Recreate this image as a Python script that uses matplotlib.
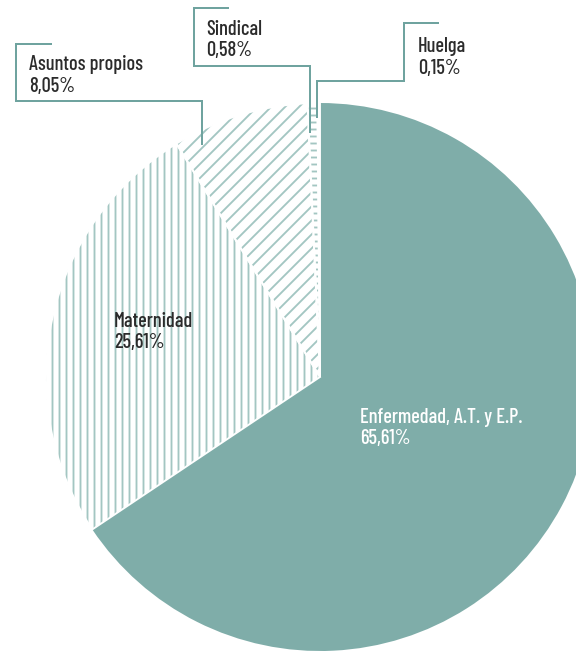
import matplotlib
matplotlib.use('Agg')
import matplotlib.pyplot as plt

# Data (percent of absences by cause)
labels = ['Enfermedad, A.T. y E.P.', 'Maternidad', 'Asuntos propios', 'Sindical', 'Huelga']
values = [65.61, 25.61, 8.05, 0.58, 0.15]
pct_text = ['65,61%', '25,61%', '8,05%', '0,58%', '0,15%']

teal = '#7FADA9'
hatch_teal = '#A3C6C2'
line_teal = '#6FA39F'
text_dark = '#2B2B2B'

# narrow DIN-like face, DejaVu as fallback
plt.rcParams['font.family'] = ['Barlow Condensed', 'DejaVu Sans']
plt.rcParams['font.weight'] = 500
plt.rcParams['hatch.color'] = hatch_teal
plt.rcParams['hatch.linewidth'] = 1.6

W, H, DPI = 576, 652, 84
fig = plt.figure(figsize=(W / DPI, H / DPI), dpi=DPI)
ax = fig.add_axes([0, 0, 1, 1])

def py(y):  # pixel row -> data y
    return H - y

cx, cy, r = 320, py(377), 274

# filled / hatched wedges
wedges, _ = ax.pie(values, colors=[teal, 'white', 'white', 'white', 'white'],
                   hatch=['', '||', '//', '--', ''], startangle=90, counterclock=False,
                   center=(cx, cy), radius=r, wedgeprops=dict(linewidth=0))
# white separators between the hatched wedges
sep, _ = ax.pie(values, colors=['none'] * 5, startangle=90, counterclock=False,
                center=(cx, cy), radius=r,
                wedgeprops=dict(linewidth=1.6, edgecolor='white', fill=False))
sep[0].set_visible(False)

ax.set_xlim(0, W)
ax.set_ylim(0, H)
ax.set_aspect('equal')
ax.axis('off')

lw = 2 * 72 / DPI
fs = 20.4 * 72 / DPI   # 20.4 px
pitch = 21.5

# label anchor: left x, first baseline (pixels); optional bracket path
layout = {
    'Enfermedad, A.T. y E.P.': (360, 423, None, 'white'),
    'Maternidad': (114, 327, None, text_dark),
    'Asuntos propios': (29, 70, ([52, 16, 16, 202, 202], [44, 44, 101, 101, 145]), text_dark),
    'Sindical': (206, 35, ([229, 194, 194, 310, 310], [8, 8, 66, 66, 133]), text_dark),
    'Huelga': (418, 52, ([439, 404, 404, 317, 317], [23, 23, 81, 81, 118]), text_dark),
}
for lab, pct in zip(labels, pct_text):
    tx, base, path, col = layout[lab]
    if path is not None:
        xs, ys = path
        ax.plot(xs, [py(v) for v in ys], color=line_teal, lw=lw,
                solid_joinstyle='miter', solid_capstyle='butt')
    ax.text(tx, py(base), lab, fontsize=fs, color=col, va='baseline', ha='left')
    ax.text(tx, py(base + pitch), pct, fontsize=fs, color=col, va='baseline', ha='left')

fig.savefig('out.png', dpi=DPI, facecolor='white')
